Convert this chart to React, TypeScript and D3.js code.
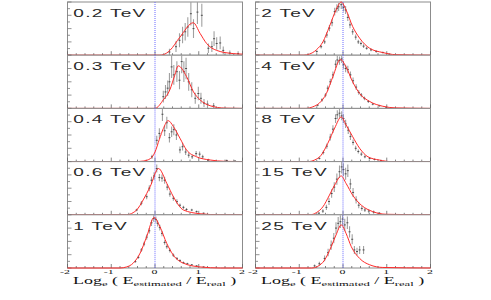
import React from "react";
import * as d3 from "d3";

// energy bins shown in each panel (left column top->bottom, then right column)
const energies = ["0.2 TeV", "0.3 TeV", "0.4 TeV", "0.6 TeV", "1 TeV", "2 TeV", "4 TeV", "8 TeV", "15 TeV", "25 TeV"];

// events at full panel height, used for the poisson error bars
const events = [16, 18, 57, 150, 250, 150, 150, 120, 60, 60];

// histograms: [log(Eest/Ereal), normalized entries]
const h02 = [[0.33, 0.06], [0.48, 0.16], [0.56, 0.28], [0.63, 0.38], [0.69, 0.44], [0.75, 0.53], [0.82, 0.78], [0.88, 0.5], [0.97, 0.81], [1.07, 0.75], [1.22, 0.13], [1.3, 0.16], [1.35, 0.31], [1.41, 0.22], [1.49, 0.23], [1.56, 0.09], [1.71, 0.04], [1.9, 0.03]];
const h03 = [[0.19, 0.22], [0.24, 0.31], [0.29, 0.38], [0.33, 0.5], [0.38, 0.78], [0.43, 0.63], [0.5, 0.69], [0.56, 0.53], [0.61, 0.88], [0.66, 0.69], [0.71, 0.75], [0.77, 0.5], [0.84, 0.35], [0.92, 0.19], [0.99, 0.28], [1.05, 0.19], [1.12, 0.1], [1.2, 0.08], [1.34, 0.05]];
const h04 = [[-0.07, 0.09], [0.04, 0.4], [0.1, 0.53], [0.17, 0.89], [0.22, 0.58], [0.27, 0.73], [0.33, 0.45], [0.38, 0.56], [0.43, 0.6], [0.49, 0.5], [0.57, 0.22], [0.63, 0.28], [0.7, 0.18], [0.77, 0.12], [0.85, 0.09], [0.94, 0.15], [1.02, 0.14], [1.09, 0.09], [1.22, 0.03], [1.64, 0.02], [1.83, 0.01]];
const h06 = [[-0.42, 0.09], [-0.31, 0.22], [-0.19, 0.34], [-0.13, 0.5], [-0.08, 0.65], [-0.02, 0.73], [0.04, 0.87], [0.1, 0.7], [0.16, 0.69], [0.22, 0.65], [0.28, 0.52], [0.34, 0.39], [0.42, 0.31], [0.5, 0.25], [0.57, 0.18], [0.65, 0.14], [0.72, 0.1], [0.84, 0.09], [0.95, 0.06], [1.11, 0.03]];
const h10 = [[-0.45, 0.12], [-0.38, 0.2], [-0.31, 0.34], [-0.25, 0.45], [-0.19, 0.58], [-0.13, 0.7], [-0.08, 0.85], [-0.03, 0.93], [0.02, 0.91], [0.06, 0.84], [0.11, 0.76], [0.16, 0.65], [0.22, 0.48], [0.27, 0.4], [0.34, 0.33], [0.42, 0.24], [0.5, 0.18], [0.57, 0.14], [0.65, 0.1], [0.74, 0.08], [0.84, 0.06], [0.95, 0.04], [1.11, 0.02]];
const h2 = [[-0.6, 0.07], [-0.5, 0.16], [-0.42, 0.25], [-0.37, 0.38], [-0.31, 0.51], [-0.25, 0.61], [-0.19, 0.82], [-0.14, 0.88], [-0.1, 0.91], [-0.04, 0.95], [0.01, 0.9], [0.06, 0.85], [0.11, 0.71], [0.16, 0.57], [0.22, 0.44], [0.29, 0.34], [0.35, 0.25], [0.41, 0.22], [0.47, 0.17], [0.54, 0.13], [0.64, 0.1], [0.76, 0.07], [0.91, 0.05], [1.06, 0.02]];
const h4 = [[-0.58, 0.06], [-0.48, 0.16], [-0.4, 0.25], [-0.35, 0.38], [-0.29, 0.5], [-0.23, 0.63], [-0.17, 0.83], [-0.13, 0.91], [-0.08, 0.9], [-0.03, 0.93], [0.01, 0.82], [0.06, 0.75], [0.11, 0.73], [0.17, 0.63], [0.23, 0.52], [0.3, 0.4], [0.36, 0.3], [0.42, 0.25], [0.49, 0.19], [0.58, 0.13], [0.68, 0.08], [0.83, 0.05], [0.99, 0.02]];
const h8 = [[-0.54, 0.06], [-0.45, 0.17], [-0.37, 0.29], [-0.29, 0.46], [-0.23, 0.61], [-0.17, 0.81], [-0.13, 0.88], [-0.08, 0.91], [-0.03, 0.86], [0.01, 0.81], [0.06, 0.71], [0.12, 0.59], [0.17, 0.47], [0.23, 0.36], [0.29, 0.25], [0.35, 0.19], [0.42, 0.14], [0.5, 0.09], [0.61, 0.06], [0.72, 0.04], [0.87, 0.02]];
const h15 = [[-0.55, 0.03], [-0.46, 0.07], [-0.38, 0.14], [-0.32, 0.25], [-0.26, 0.4], [-0.2, 0.52], [-0.14, 0.67], [-0.08, 0.81], [-0.03, 0.9], [0.01, 0.85], [0.06, 0.77], [0.11, 0.83], [0.17, 0.58], [0.23, 0.42], [0.3, 0.28], [0.36, 0.18], [0.43, 0.12], [0.5, 0.09], [0.59, 0.07], [0.7, 0.05], [0.83, 0.03]];
const h25 = [[-0.65, 0.04], [-0.54, 0.08], [-0.42, 0.18], [-0.34, 0.29], [-0.27, 0.43], [-0.21, 0.56], [-0.16, 0.75], [-0.11, 0.84], [-0.06, 0.87], [-0.01, 0.92], [0.04, 0.81], [0.1, 0.85], [0.15, 0.68], [0.21, 0.54], [0.26, 0.34], [0.32, 0.31], [0.38, 0.34], [0.47, 0.34]];

// fitted curves, sampled off the plot
const f02 = [[-2, 0], [0.1, 0], [0.19, 0.01], [0.34, 0.09], [0.57, 0.34], [0.875, 0.61], [1.03, 0.41], [1.18, 0.22], [1.41, 0.09], [1.79, 0.03], [2, 0.02]];
const f03 = [[-2, 0], [0, 0], [0.19, 0.16], [0.34, 0.35], [0.45, 0.62], [0.53, 0.8], [0.72, 0.6], [0.88, 0.31], [1.03, 0.16], [1.26, 0.05], [1.6, 0.005], [2, 0]];
const f04 = [[-2, 0], [-0.45, 0], [-0.27, 0.01], [-0.1, 0.06], [0, 0.18], [0.1, 0.42], [0.19, 0.62], [0.3, 0.77], [0.42, 0.66], [0.57, 0.44], [0.72, 0.22], [0.95, 0.09], [1.26, 0.03], [1.6, 0.005], [2, 0]];
const f06 = [[-2, 0], [-0.65, 0], [-0.5, 0.04], [-0.42, 0.09], [-0.27, 0.28], [-0.11, 0.53], [0.08, 0.87], [0.27, 0.59], [0.42, 0.34], [0.65, 0.09], [1.03, 0.02], [1.5, 0], [2, 0]];
const f10 = [[-2, 0], [-0.8, 0], [-0.65, 0.02], [-0.5, 0.09], [-0.34, 0.28], [-0.19, 0.59], [-0.02, 0.95], [0.11, 0.78], [0.27, 0.46], [0.42, 0.24], [0.65, 0.09], [1.03, 0.02], [1.5, 0], [2, 0]];
const f2 = [[-2, 0], [-0.9, 0], [-0.77, 0.02], [-0.61, 0.1], [-0.46, 0.25], [-0.31, 0.54], [-0.16, 0.85], [-0.04, 1.0], [0.07, 0.85], [0.22, 0.54], [0.38, 0.32], [0.61, 0.13], [0.91, 0.05], [1.2, 0.01], [2, 0]];
const f4 = [[-2, 0], [-0.85, 0], [-0.69, 0.03], [-0.54, 0.1], [-0.38, 0.28], [-0.23, 0.6], [-0.06, 0.92], [0.07, 0.78], [0.22, 0.5], [0.38, 0.28], [0.61, 0.13], [0.91, 0.04], [1.2, 0.01], [2, 0]];
const f8 = [[-2, 0], [-0.8, 0], [-0.65, 0.03], [-0.5, 0.12], [-0.35, 0.34], [-0.19, 0.63], [-0.04, 0.84], [0.07, 0.69], [0.22, 0.47], [0.38, 0.25], [0.57, 0.09], [0.83, 0.03], [1.1, 0], [2, 0]];
const f15 = [[-2, 0], [-0.75, 0], [-0.61, 0.04], [-0.46, 0.15], [-0.31, 0.37], [-0.19, 0.56], [-0.04, 0.73], [0.07, 0.59], [0.22, 0.37], [0.42, 0.18], [0.68, 0.06], [0.99, 0.01], [2, 0]];
const f25 = [[-2, 0], [-0.72, 0], [-0.58, 0.03], [-0.42, 0.15], [-0.27, 0.4], [-0.16, 0.62], [-0.04, 0.81], [0.07, 0.65], [0.19, 0.4], [0.38, 0.18], [0.61, 0.06], [0.91, 0.01], [2, 0]];

const xTicks = [-2, -1, 0, 1, 2];

const hists = [h02, h03, h04, h06, h10, h2, h4, h8, h15, h25];
const fits = [f02, f03, f04, f06, f10, f2, f4, f8, f15, f25];

const W = 491, H = 300;
const cols = [[67.5, 242.5], [255.5, 430.5]];
const top0 = 2, panelH = 53.2;

function Panel({ i }: { i: number }) {
  const col = Math.floor(i / 5), row = i % 5;
  const [x0, x1] = cols[col];
  const y0 = top0 + row * panelH, y1 = y0 + panelH;
  const x = d3.scaleLinear().domain([-2, 2]).range([x0, x1]);
  const y = d3.scaleLinear().domain([0, 1]).range([y1, y0]);
  const n = events[i];
  const line = d3.line<number[]>().x(d => x(d[0])).y(d => y(d[1])).curve(d3.curveMonotoneX);
  const minor = d3.range(-2, 2.001, 0.2);
  const yt = d3.range(0, 1.001, 0.125);
  const clip = `clip${i}`;
  return (
    <g>
      <clipPath id={clip}><rect x={x0} y={y0} width={x1 - x0} height={panelH} /></clipPath>
      <rect x={x0} y={y0} width={x1 - x0} height={panelH} fill="white" stroke="#8c8c8c" strokeWidth={1} />
      {minor.map((t, k) => {
        const big = Math.abs(t - Math.round(t)) < 1e-6;
        return <line key={"xt" + k} x1={x(t)} x2={x(t)} y1={y1} y2={y1 - (big ? 4 : 2)} stroke="#666" strokeWidth={0.8} />;
      })}
      {yt.map((t, k) => (
        <line key={"yt" + k} x1={x0} x2={x0 + (k % 2 === 0 ? 4 : 2.5)} y1={y(t)} y2={y(t)} stroke="#777" strokeWidth={0.8} />
      ))}
      <g clipPath={`url(#${clip})`}>
        {hists[i].map((d, k) => {
          const e = Math.sqrt(d[1] * n) / n;
          const cx = x(d[0]);
          return (
            <g key={"p" + k}>
              <line x1={cx} x2={cx} y1={y(d[1] - e)} y2={y(d[1] + e)} stroke="#a0a0a0" strokeWidth={1.1} />
              <line x1={cx - 1} x2={cx + 1} y1={y(d[1])} y2={y(d[1])} stroke="#333" strokeWidth={0.8} />
            </g>
          );
        })}
      </g>
      <line x1={x(0)} x2={x(0)} y1={y0} y2={y1} stroke="#6b6bff" strokeWidth={1} strokeDasharray="1 1" />
      <path d={line(fits[i]) || ""} fill="none" stroke="#ff2a2a" strokeWidth={1} />
      <text transform={`translate(${x0 + 5.8},${y0 + 14.7}) scale(1.85,1)`} fontFamily="'Liberation Sans', Arial, sans-serif" fontSize={10.3} letterSpacing={0.7} fill="#2a2a2a">{energies[i]}</text>
    </g>
  );
}

function Axis({ col }: { col: number }) {
  const [x0, x1] = cols[col];
  const x = d3.scaleLinear().domain([-2, 2]).range([x0, x1]);
  return (
    <g fontFamily="'Liberation Serif', 'Times New Roman', serif" fill="#111">
      {xTicks.map(t => (
        <text key={t} transform={`translate(${x(t) + 2.5},274.3) scale(1.7,1)`} fontSize={7} textAnchor="end">{t < 0 ? "-" + Math.abs(t) : String(t)}</text>
      ))}
      <text transform={`translate(${x0 + 5.5},284) scale(1.8,1)`} fontSize={10}>
        Log<tspan fontSize={7} dy={2}>e</tspan>
        <tspan dy={-2}> ( E</tspan><tspan fontSize={7} dy={2}>estimated</tspan>
        <tspan dy={-2}> / E</tspan><tspan fontSize={7} dy={2}>real</tspan>
        <tspan dy={-2}> )</tspan>
      </text>
    </g>
  );
}

export default function App() {
  return (
    <svg width={W} height={H} style={{ position: "absolute", left: 0, top: 0, background: "white" }}>
      <rect width={W} height={H} fill="white" />
      {energies.map((_, i) => <Panel key={i} i={i} />)}
      <Axis col={0} />
      <Axis col={1} />
    </svg>
  );
}
